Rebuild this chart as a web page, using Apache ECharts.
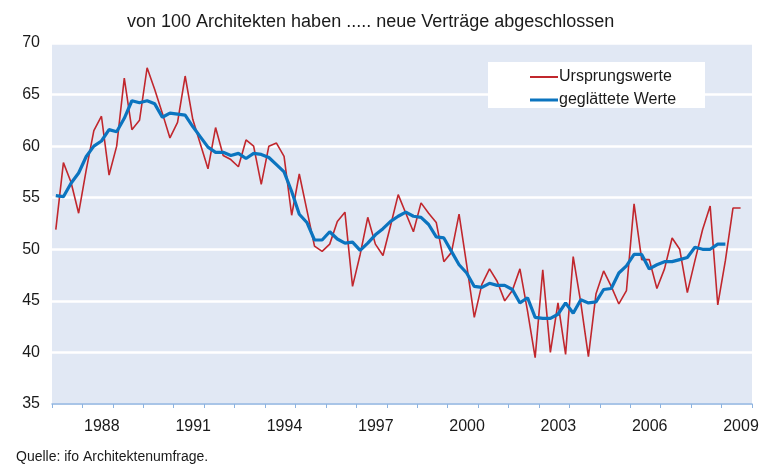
<!DOCTYPE html>
<html>
<head>
<meta charset="utf-8">
<script src="https://cdn.jsdelivr.net/npm/echarts@6/dist/echarts.min.js"></script>
<style>
  body { margin: 0; background: #fff; }
  #chart { width: 767px; height: 469px; }
</style>
</head>
<body>
<div id="chart"></div>
<script>
// Quartalswerte ab 1986 Q1
const startYear = 1986;
const ursprungswerte = [
  51.9, 58.4, 56.5, 53.5, 57.7, 61.5, 62.9, 57.2, 60.0, 66.6, 61.6, 62.5,
  67.6, 65.5, 63.2, 60.8, 62.3, 66.8, 62.6, 60.2, 57.8, 61.8, 59.1, 58.7,
  58.0, 60.6, 60.0, 56.3, 60.0, 60.3, 59.0, 53.3, 57.3, 53.8, 50.3, 49.8,
  50.5, 52.7, 53.6, 46.4, 49.5, 53.1, 50.5, 49.4, 52.3, 55.3, 53.5, 51.7,
  54.5, 53.5, 52.6, 48.8, 49.7, 53.4, 48.5, 43.4, 46.6, 48.1, 46.9, 45.0,
  46.0, 48.1, 44.0, 39.5, 48.0, 40.0, 44.8, 39.8, 49.3, 44.8, 39.6, 45.7,
  47.9, 46.4, 44.7, 46.0, 54.4, 49.0, 49.0, 46.2, 48.1, 51.1, 50.0, 45.8,
  48.9, 51.9, 54.2, 44.6, 48.9, 54.0, 54.0
];
const geglaettet = [
  55.2, 55.1, 56.4, 57.4, 59.0, 60.0, 60.5, 61.6, 61.4, 62.7, 64.4, 64.2,
  64.4, 64.1, 62.8, 63.2, 63.1, 63.0, 61.9, 60.9, 59.9, 59.4, 59.4, 59.1,
  59.3, 58.8, 59.3, 59.2, 58.9, 58.2, 57.5, 55.6, 53.4, 52.6, 50.9, 50.9,
  51.7, 51.0, 50.6, 50.7, 49.9, 50.6, 51.4, 52.0, 52.7, 53.2, 53.6, 53.2,
  53.1, 52.4, 51.2, 51.1, 49.8, 48.5, 47.7, 46.4, 46.3, 46.7, 46.5, 46.5,
  46.1, 44.8, 45.3, 43.4, 43.3, 43.3, 43.7, 44.8, 43.8, 45.1, 44.8, 44.9,
  46.1, 46.2, 47.7, 48.4, 49.5, 49.5, 48.1, 48.5, 48.8, 48.8, 49.0, 49.2,
  50.2, 50.0, 50.0, 50.5, 50.5
];
const beschriftungsJahre = [1988, 1991, 1994, 1997, 2000, 2003, 2006, 2009];

function quartal(i) {
  return startYear + (i + 0.5) / 4;
}

const rotDaten = ursprungswerte.map((v, i) => [quartal(i), v]);
const blauDaten = geglaettet.map((v, i) => [quartal(i), v]);

const textColor = '#1a1a1a';
const font = 'Liberation Sans, Arial, sans-serif';
const rot = '#C1272D';
const blau = '#0B74BF';

const chart = echarts.init(document.getElementById('chart'));

const legendText = { fontSize: 16, color: textColor, fontFamily: font, padding: [0, 0, 0, -4] };

const option = {
  animation: false,
  textStyle: { fontFamily: font },
  title: [
    {
      text: 'von 100 Architekten haben ..... neue Verträge abgeschlossen',
      left: 122, top: 8,
      textStyle: { fontSize: 18, fontWeight: 'normal', color: textColor, fontFamily: font }
    },
    {
      text: 'Quelle: ifo Architektenumfrage.',
      left: 11, top: 445,
      textStyle: { fontSize: 14, fontWeight: 'normal', color: textColor, fontFamily: font }
    }
  ],
  graphic: [{
    type: 'rect',
    left: 488, top: 62,
    shape: { width: 217, height: 46 },
    style: { fill: '#ffffff' },
    z: 5
  }],
  grid: {
    left: 52, right: 15, top: 43, bottom: 65,
    show: true, backgroundColor: '#E1E8F4', borderWidth: 0
  },
  legend: [
    {
      left: 525, top: 64,
      icon: 'rect', itemWidth: 28, itemHeight: 2,
      textStyle: legendText,
      data: ['Ursprungswerte'],
      z: 10
    },
    {
      left: 525, top: 87,
      icon: 'rect', itemWidth: 28, itemHeight: 3,
      textStyle: legendText,
      data: ['geglättete Werte'],
      z: 10
    }
  ],
  xAxis: {
    type: 'value',
    min: 1986, max: 2009, interval: 1,
    axisLine: { show: true, lineStyle: { color: '#8DB3E0', width: 1.5 } },
    axisTick: { show: true, inside: false, length: 4, lineStyle: { color: '#8DB3E0' } },
    splitLine: { show: false },
    axisLabel: {
      fontSize: 16, color: textColor, margin: 15, padding: [0, 22, 0, 0],
      formatter: function (v) {
        return beschriftungsJahre.indexOf(v) >= 0 ? String(v) : '';
      }
    }
  },
  yAxis: {
    type: 'value',
    min: 35, max: 70, interval: 5,
    axisLine: { show: false },
    axisTick: { show: false },
    splitLine: { show: true, lineStyle: { color: '#ffffff', width: 2.5 } },
    axisLabel: { fontSize: 16, color: textColor, margin: 12 }
  },
  series: [
    {
      name: 'Ursprungswerte',
      type: 'line',
      data: rotDaten,
      symbol: 'none',
      lineStyle: { color: rot, width: 1.6 },
      itemStyle: { color: rot },
      z: 2
    },
    {
      name: 'geglättete Werte',
      type: 'line',
      data: blauDaten,
      symbol: 'none',
      lineStyle: { color: blau, width: 3.2 },
      itemStyle: { color: blau },
      z: 3
    }
  ]
};

chart.setOption(option);
</script>
</body>
</html>
